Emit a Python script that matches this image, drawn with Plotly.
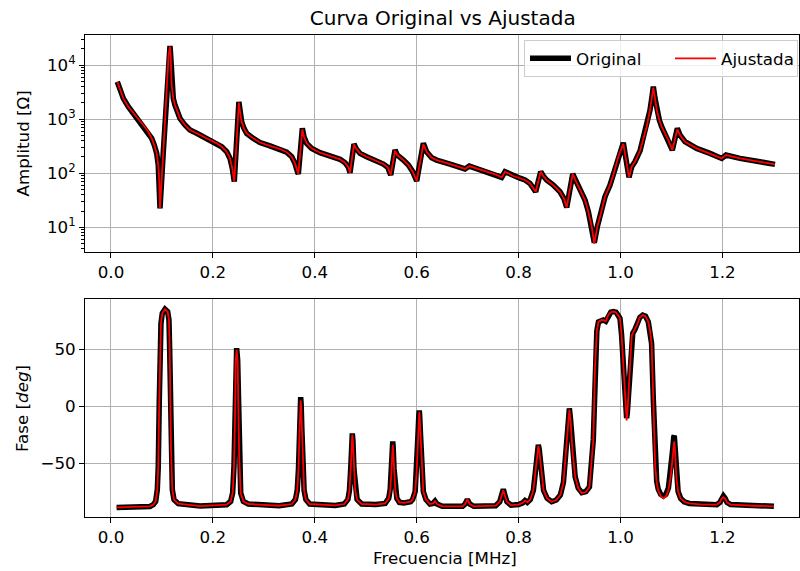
import plotly.graph_objects as go

# ---------------- data ----------------
freq_amp = [0.0124, 0.0177, 0.0242, 0.034, 0.0438, 0.0536, 0.0634, 0.0732, 0.0799, 0.085,
            0.0897, 0.0928, 0.0948, 0.0962, 0.1027, 0.109, 0.113, 0.1158, 0.1171, 0.119,
            0.1223, 0.1256, 0.1302, 0.1354, 0.1452, 0.155, 0.1682, 0.1812, 0.1943, 0.2075,
            0.2173, 0.2271, 0.2336, 0.2381, 0.242, 0.251, 0.2532, 0.2565, 0.261, 0.2663,
            0.2793, 0.2924, 0.312, 0.3317, 0.3448, 0.3547, 0.3611, 0.3657, 0.3677, 0.3756,
            0.3788, 0.3841, 0.3939, 0.4102, 0.4298, 0.4495, 0.4593, 0.4658, 0.4691, 0.4769,
            0.4809, 0.4887, 0.5018, 0.5182, 0.5345, 0.543, 0.549, 0.5574, 0.562, 0.5739,
            0.5837, 0.5922, 0.600, 0.613, 0.6195, 0.6294, 0.6392, 0.6654, 0.6948, 0.7033,
            0.7178, 0.7439, 0.757, 0.7668, 0.7733, 0.7896, 0.8027, 0.8125, 0.8224, 0.8335,
            0.8434, 0.8485, 0.8551, 0.8681, 0.8812, 0.889, 0.8944, 0.9062, 0.9107, 0.9205,
            0.9303, 0.9369, 0.9435, 0.9486, 0.9545, 0.9598, 0.9696, 0.9794, 0.9859, 0.9957,
            1.0055, 1.0121, 1.0167, 1.022, 1.0284, 1.0383, 1.0514, 1.0579, 1.0618, 1.0644,
            1.0677, 1.0711, 1.0762, 1.0808, 1.0873, 1.0938, 1.1017, 1.1115, 1.1168, 1.1266,
            1.1495, 1.1756, 1.1986, 1.207, 1.2345, 1.2738, 1.3032]
amp_orig = [4910, 3450, 2420, 1695, 1280, 1005, 778, 585, 441, 332,
            233, 141, 70, 22.4, 250, 2800, 15000, 22500, 15300, 4270,
            2420, 1820, 1370, 1035, 778, 630, 547, 474, 411, 357,
            309, 250, 188, 123, 70, 2090, 1370, 890, 676, 547,
            441, 370, 320, 280, 245, 202, 152, 108, 97, 676,
            473, 357, 288, 240, 208, 181, 157, 129, 102, 347,
            288, 233, 202, 175, 148, 129, 93, 270, 217, 175,
            142, 107, 72, 357, 250, 194, 175, 148, 120, 136,
            123, 100, 93, 84, 107, 89, 81, 75, 65, 45.5,
            107, 89, 75, 60.5, 45.5, 34, 23.4, 97, 77, 49,
            32, 19.5, 10.3, 5.2, 10.3, 15.7, 36.8, 60.5, 93, 202,
            366, 152, 84, 132, 163, 260, 725, 1470, 2590, 3970,
            2420, 1470, 962, 725, 546, 411, 268, 676, 508, 382,
            288, 233, 188, 217, 188, 163, 146]
amp_fit = [4910, 3450, 2420, 1695, 1280, 1005, 778, 585, 441, 332,
           233, 141, 70, 22.4, 250, 2800, 15000, 22000, 15000, 4270,
           2420, 1820, 1370, 1035, 778, 630, 547, 474, 411, 357,
           309, 250, 188, 123, 70, 2020, 1370, 890, 676, 547,
           441, 370, 320, 280, 245, 202, 152, 108, 97, 650,
           473, 357, 288, 240, 208, 181, 157, 129, 102, 340,
           288, 233, 202, 175, 148, 129, 93, 262, 217, 175,
           142, 107, 72, 345, 250, 194, 175, 148, 120, 136,
           123, 100, 93, 84, 107, 89, 81, 75, 65, 45.5,
           107, 89, 75, 60.5, 45.5, 34, 23.4, 97, 77, 49,
           32, 19.5, 10.3, 5.0, 10.3, 15.7, 36.8, 60.5, 93, 202,
           350, 152, 84, 132, 163, 260, 725, 1470, 2590, 3800,
           2420, 1470, 962, 725, 546, 411, 268, 650, 508, 382,
           288, 233, 188, 217, 188, 163, 146]

freq_phase = [0.011, 0.040, 0.0766, 0.083, 0.0877, 0.0909, 0.0928, 0.0948, 0.0962, 0.0981,
              0.1007, 0.106, 0.1112, 0.1138, 0.1152, 0.1165, 0.1178, 0.1204, 0.1237, 0.1321,
              0.175, 0.227, 0.2349, 0.2388, 0.2414, 0.2434, 0.2447, 0.2466, 0.2486, 0.2498,
              0.2518, 0.2546, 0.2597, 0.2695, 0.33, 0.355, 0.362, 0.3655, 0.368, 0.370,
              0.3715, 0.3723, 0.3732, 0.3746, 0.3766, 0.379, 0.3825, 0.39, 0.44, 0.458,
              0.465, 0.468, 0.4705, 0.4725, 0.4736, 0.4748, 0.4768, 0.4793, 0.483, 0.492,
              0.52, 0.538, 0.545, 0.548, 0.5505, 0.5522, 0.553, 0.5538, 0.5555, 0.558,
              0.561, 0.566, 0.575, 0.588, 0.592, 0.597, 0.600, 0.6025, 0.6042, 0.605,
              0.6058, 0.6075, 0.610, 0.613, 0.618, 0.626, 0.632, 0.636, 0.640, 0.650,
              0.690, 0.695, 0.6994, 0.704, 0.712, 0.755, 0.763, 0.767, 0.770, 0.773,
              0.777, 0.785, 0.800, 0.808, 0.8125, 0.817, 0.823, 0.829, 0.8335, 0.837,
              0.8387, 0.8405, 0.844, 0.849, 0.856, 0.865, 0.874, 0.882, 0.888, 0.893,
              0.897, 0.8996, 0.902, 0.906, 0.911, 0.917, 0.924, 0.932, 0.939, 0.9466,
              0.950, 0.9535, 0.9567, 0.962, 0.966, 0.971, 0.976, 0.981, 0.986, 0.991,
              0.995, 0.999, 1.002, 1.004, 1.008, 1.0105, 1.012, 1.0135, 1.0157, 1.0187,
              1.022, 1.024, 1.028, 1.032, 1.038, 1.0436, 1.049, 1.0545, 1.058, 1.061,
              1.0644, 1.068, 1.071, 1.074, 1.079, 1.084, 1.089, 1.094, 1.099, 1.102,
              1.1045, 1.1055, 1.107, 1.1095, 1.113, 1.118, 1.125, 1.135, 1.160, 1.189,
              1.195, 1.1985, 1.202, 1.2055, 1.209, 1.216, 1.261, 1.301]
phase_orig = [-89, -88.7, -88.1, -86.6, -83.7, -73.4, -53, 5.5, 49.4, 72.8,
              81.6, 85.1, 83, 75.7, 49.4, 5.5, -38.3, -73.4, -82.2, -85.7,
              -87.8, -86.6, -83.7, -76.3, -53, -9.1, 40.6, 50.9, 40.6, 5.5,
              -47, -76.3, -83.7, -86, -87.5, -86, -82, -74, -55, -20,
              2, 7.9, 2, -20, -55, -74, -82, -86, -87.2, -86,
              -82, -74, -55, -30, -24, -30, -55, -74, -82, -86,
              -86.5, -85.5, -81, -73, -55, -36, -31, -36, -55, -73,
              -81, -84.5, -85, -84, -82, -75, -56, -25, -8, -3.8,
              -8, -25, -56, -75, -82, -86, -85.5, -83.5, -86, -88,
              -88, -86, -82, -86, -88, -87.5, -84, -78, -73, -78,
              -84, -87, -86.5, -85, -83, -84.5, -82, -74, -55, -38,
              -34, -38, -55, -74, -81, -84, -82.5, -78, -67, -40,
              -12, -2, -12, -40, -62, -72, -76, -75, -71, -29.5,
              35, 66, 74, 75.5, 75.7, 74.5, 80, 82.5, 83, 82.5,
              80, 77, 63, 49, 15, -5, -10.5, -5, 10, 35,
              62, 64, 67, 71, 78, 80, 79, 74, 66, 55,
              5.5, -53, -66, -73, -77.5, -79, -77.5, -72, -57, -40,
              -27, -26, -35, -60, -75, -81, -84, -85.5, -86.5, -86.6,
              -84.5, -81, -79, -81, -84.5, -86.5, -87.5, -88]
phase_fit = [-89, -88.7, -88.1, -86.6, -83.7, -73.4, -53, 5.5, 49.4, 72.8,
             81.6, 85.1, 83, 75.7, 49.4, 5.5, -38.3, -73.4, -82.2, -85.7,
             -87.8, -86.6, -83.7, -76.3, -53, -10, 39, 49.5, 39, 4,
             -47, -76.3, -83.7, -86, -87.5, -86, -82, -74, -56, -22,
             0, 5, 0, -22, -56, -74, -82, -86, -87.2, -86,
             -82, -74, -55, -31, -25, -31, -55, -74, -82, -86,
             -86.5, -85.5, -81, -74, -57, -39, -34, -39, -57, -74,
             -81, -84.5, -85, -84, -82, -75, -57, -27, -9, -5,
             -9, -27, -57, -75, -82, -86, -85.5, -83.5, -86, -88,
             -88, -86, -82, -86, -88, -87.5, -84, -78.5, -74, -78.5,
             -84, -87, -86.5, -85, -83, -84.5, -82, -74, -56, -39,
             -35, -39, -56, -74, -81, -84, -82.5, -78, -67, -41,
             -13, -3, -13, -41, -62, -72, -76.5, -75.5, -71, -29.5,
             35, 66, 74, 75.5, 75.7, 74.5, 80, 82.5, 83, 82.5,
             80, 77, 63, 49, 14, -6.5, -12.5, -6.5, 9, 35,
             62, 64, 67, 71, 78, 80, 79, 74, 66, 55,
             5.5, -53, -67, -74, -79, -81, -79.5, -74, -60, -45,
             -32, -31, -39, -62, -75, -81, -84, -85.5, -86.5, -86.6,
             -84.5, -81.5, -80, -81.5, -84.5, -86.5, -87.5, -88]

assert len(freq_amp) == len(amp_orig) == len(amp_fit)
assert len(freq_phase) == len(phase_orig) == len(phase_fit)

x_ticks = [0.0, 0.2, 0.4, 0.6, 0.8, 1.0, 1.2]
x_ticktext = ["0.0", "0.2", "0.4", "0.6", "0.8", "1.0", "1.2"]
amp_ticks = [10, 100, 1000, 10000]
amp_ticktext = ["10<sup>1</sup>", "10<sup>2</sup>", "10<sup>3</sup>", "10<sup>4</sup>"]
phase_ticks = [-50, 0, 50]
phase_ticktext = ["\u221250", "0", "50"]

# ---------------- figure ----------------
FONT = "DejaVu Sans"
BASE = 16.7
GRID = "#b0b0b0"

fig = go.Figure()
fig.add_trace(go.Scatter(x=freq_amp, y=amp_orig, mode="lines", name="Original",
                         line=dict(color="black", width=5.5), xaxis="x", yaxis="y",
                         legendwidth=89))
fig.add_trace(go.Scatter(x=freq_amp, y=amp_fit, mode="lines", name="Ajustada",
                         line=dict(color="red", width=1.8), xaxis="x", yaxis="y",
                         legendwidth=71))
fig.add_trace(go.Scatter(x=freq_phase, y=phase_orig, mode="lines", showlegend=False,
                         line=dict(color="black", width=5.5), xaxis="x2", yaxis="y2"))
fig.add_trace(go.Scatter(x=freq_phase, y=phase_fit, mode="lines", showlegend=False,
                         line=dict(color="red", width=1.8), xaxis="x2", yaxis="y2"))

common_axis = dict(showline=True, linecolor="black", linewidth=1, mirror=True,
                   ticks="outside", ticklen=5, tickwidth=1, tickcolor="black",
                   showgrid=True, gridcolor=GRID, gridwidth=1, zeroline=False,
                   tickfont=dict(family=FONT, size=BASE, color="black"))

minor_vals = [m * 10 ** e for e in range(0, 5) for m in range(2, 10)]

fig.update_layout(
    width=800, height=571,
    margin=dict(l=85, r=1, t=35, b=54),
    paper_bgcolor="white", plot_bgcolor="white",
    font=dict(family=FONT, size=BASE, color="black"),
    showlegend=True,
    title=dict(text="Curva Original vs Ajustada", x=0.501, xref="paper",
               xanchor="center", y=1 - 18 / 571, yref="container", yanchor="middle",
               font=dict(family=FONT, size=20, color="black")),
    xaxis=dict(domain=[0, 1], anchor="y", range=[-0.051, 1.3503],
               tickmode="array", tickvals=x_ticks, ticktext=x_ticktext, **common_axis),
    yaxis=dict(domain=[0.549, 1], anchor="x", type="log", range=[0.538, 4.5545],
               tickmode="array", tickvals=amp_ticks, ticktext=amp_ticktext,
               minor=dict(tickmode="array", tickvals=minor_vals, ticks="outside",
                          ticklen=3, tickwidth=1, tickcolor="black", showgrid=False),
               **common_axis),
    xaxis2=dict(domain=[0, 1], anchor="y2", range=[-0.051, 1.3503],
                tickmode="array", tickvals=x_ticks, ticktext=x_ticktext, **common_axis),
    yaxis2=dict(domain=[0, 0.4517], anchor="x2", range=[-97.4, 93.86],
                tickmode="array", tickvals=phase_ticks, ticktext=phase_ticktext,
                **common_axis),
    legend=dict(orientation="h", x=0.9986, xanchor="right", y=0.9896, yanchor="top",
                itemwidth=41,
                bgcolor="rgba(255,255,255,0.8)", bordercolor="#cccccc", borderwidth=1,
                font=dict(family=FONT, size=BASE, color="black")),
    annotations=[
        dict(text="Amplitud [\u03a9]", xref="paper", yref="paper", x=(22 - 85) / 714,
             y=(517 - 143.5) / 482, xanchor="center", yanchor="middle", textangle=-90,
             showarrow=False, font=dict(family=FONT, size=BASE, color="black")),
        dict(text="Fase [<i>deg</i>]", xref="paper", yref="paper", x=(22 - 85) / 714,
             y=(517 - 408) / 482, xanchor="center", yanchor="middle", textangle=-90,
             showarrow=False, font=dict(family=FONT, size=BASE, color="black")),
        dict(text="Frecuencia [MHz]", xref="paper", yref="paper", x=(445 - 85) / 714,
             y=(517 - 558) / 482, xanchor="center", yanchor="middle",
             showarrow=False, font=dict(family=FONT, size=BASE, color="black")),
    ],
)

fig.write_html("out.html")
